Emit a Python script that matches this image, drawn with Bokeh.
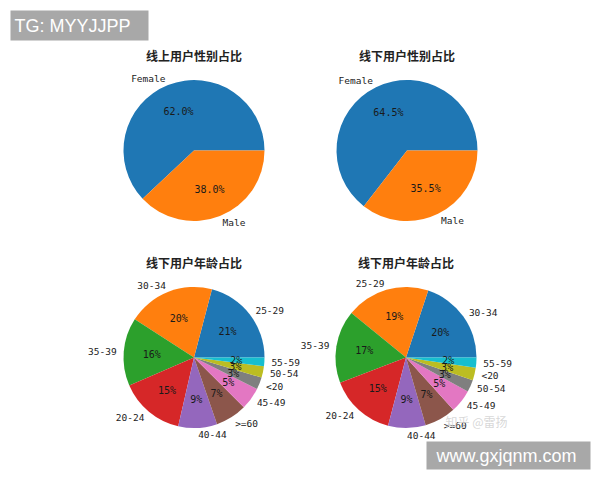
import math
from bokeh.plotting import figure
from bokeh.models import Range1d, ColumnDataSource, BoxAnnotation, Label
from bokeh.core.properties import value
from bokeh.embed import file_html
from bokeh.resources import INLINE

# ---------------- data ----------------
titles = ["线上用户性别占比", "线下用户性别占比", "线下用户年龄占比", "线下用户年龄占比"]

gender_labels = ["Female", "Male"]
online_gender = [62.0, 38.0]
offline_gender = [64.5, 35.5]

age_labels_a = ["25-29", "30-34", "35-39", "20-24", "40-44", ">=60", "45-49", "<20", "50-54", "55-59"]
age_values_a = [20.9, 20.0, 15.6, 14.9, 8.9, 7.2, 5.1, 2.8, 2.6, 2.0]

age_labels_b = ["30-34", "25-29", "35-39", "20-24", "40-44", ">=60", "45-49", "50-54", "<20", "55-59"]
age_values_b = [19.9, 19.2, 16.7, 15.1, 8.6, 7.2, 5.3, 2.8, 2.9, 2.3]

palette = ["#1f77b4", "#ff7f0e", "#2ca02c", "#d62728", "#9467bd",
           "#8c564b", "#e377c2", "#7f7f7f", "#bcbd22", "#17becf"]

W, H = 600, 480


def fx(ix):
    return ix


def fy(iy):
    return H - iy


p = figure(width=W, height=H, output_backend="svg", toolbar_location=None,
           x_range=Range1d(0, W), y_range=Range1d(0, H), min_border=0,
           tools="")
p.axis.visible = False
p.grid.visible = False
p.outline_line_color = None
p.background_fill_color = "white"
p.border_fill_color = "white"

R = 70.5
LATIN = value("DejaVu Sans Mono")
CJK = value("Noto Sans CJK SC")


def draw_pie(cx, cy, labels, values, fmt, title):
    total = float(sum(values))
    starts, ends, mids = [], [], []
    acc = 0.0
    for v in values:
        a0 = acc / total * 2 * math.pi
        acc += v
        a1 = acc / total * 2 * math.pi
        starts.append(a0)
        ends.append(a1)
        mids.append((a0 + a1) / 2)
    x, y = fx(cx), fy(cy)
    src = ColumnDataSource(dict(
        x=[x] * len(values), y=[y] * len(values),
        start=starts, end=ends, color=palette[:len(values)]))
    p.wedge(x="x", y="y", radius=R, start_angle="start", end_angle="end",
            direction="anticlock", fill_color="color", line_color=None, source=src)
    lx = [x + 1.1 * R * math.cos(m) for m in mids]
    ly = [y + 1.1 * R * math.sin(m) for m in mids]
    al = ["left" if math.cos(m) >= 0 else "right" for m in mids]
    p.text(x=lx, y=ly, text=labels, text_align=al, text_baseline="middle",
           text_font=LATIN, text_font_size="9.5px", text_color="#222222")
    px = [x + 0.6 * R * math.cos(m) for m in mids]
    py = [y + 0.6 * R * math.sin(m) for m in mids]
    pct = [fmt.format(v / total * 100) for v in values]
    p.text(x=px, y=py, text=pct, text_align="center", text_baseline="middle",
           text_font=LATIN, text_font_size="10px", text_color="#1a1a1a")
    p.text(x=[x], y=[fy(cy - 95)], text=[title],
           text_align="center", text_baseline="middle", text_font=CJK,
           text_font_size="12px", text_font_style="bold", text_color="#222222")


draw_pie(193.5, 150, gender_labels, online_gender, "{:.1f}%", titles[0])
draw_pie(406.5, 150, gender_labels, offline_gender, "{:.1f}%", titles[1])
draw_pie(193.5, 357, age_labels_a, age_values_a, "{:.0f}%", titles[2])
draw_pie(405.5, 357, age_labels_b, age_values_b, "{:.0f}%", titles[3])

# watermark overlays
p.text(x=[fx(476)], y=[fy(421)], text=["知乎 @雷扬"], text_align="center",
       text_baseline="middle", text_font=CJK, text_font_size="12px",
       text_color="#d0d0d0", text_alpha=0.85)

p.add_layout(BoxAnnotation(left=fx(10), right=fx(148), top=fy(10), bottom=fy(40),
                           fill_color="#a8a8a8", fill_alpha=1.0, line_color=None))
p.add_layout(Label(x=fx(14), y=fy(25), text="TG: MYYJJPP", text_align="left",
                   text_baseline="middle", text_color="white",
                   text_font="Liberation Sans", text_font_size="18px"))
p.add_layout(BoxAnnotation(left=fx(426), right=fx(590), top=fy(441), bottom=fy(469),
                           fill_color="#a8a8a8", fill_alpha=1.0, line_color=None))
p.add_layout(Label(x=fx(506), y=fy(455), text="www.gxjqnm.com", text_align="center",
                   text_baseline="middle", text_color="white",
                   text_font="Liberation Sans", text_font_size="18px"))

open("out.html", "w").write(file_html(p, INLINE))
